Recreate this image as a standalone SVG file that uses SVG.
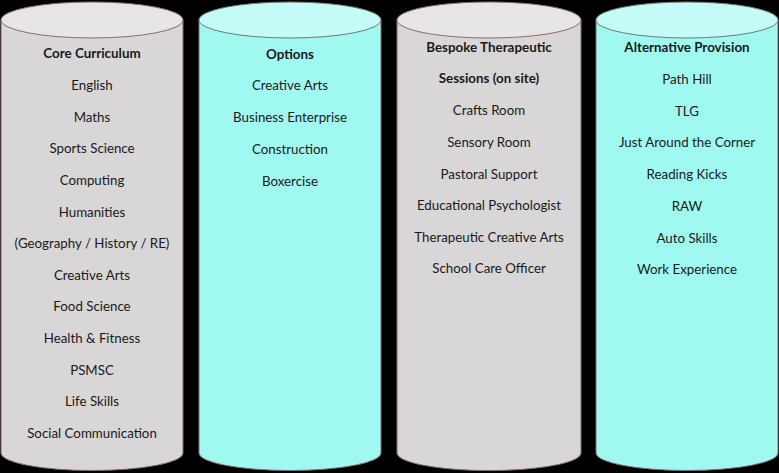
<svg xmlns="http://www.w3.org/2000/svg" width="779" height="473" viewBox="0 0 779 473">
<style>
.body{stroke:#8a6a6e;stroke-width:1}
.gray .body{fill:#d8d6d6}
.gray .top{fill:#e8e5e5;stroke:#8a6a6e;stroke-width:1}
.cyan .body{fill:#a0f9f1}
.cyan .top{fill:#c4fbf6;stroke:#6a7a7a;stroke-width:1}
text{font-family:Lato,"Open Sans","Liberation Sans",sans-serif;font-size:13.3px;fill:#1a1a1a;text-anchor:middle}
.h{font-weight:bold;font-size:13.4px}
</style>
<rect width="779" height="473" fill="#000"/>
<g id="core-curriculum" class="gray">
<path class="body" d="M1,20 L1,453 A91,17.5 0 0 0 183,453 L183,20 Z"/>
<ellipse class="top" cx="92" cy="20" rx="91" ry="18"/>
<text class="h" x="92" y="58">Core Curriculum</text>
<text x="92" y="90">English</text>
<text x="92" y="122">Maths</text>
<text x="92" y="153">Sports Science</text>
<text x="92" y="185">Computing</text>
<text x="92" y="217">Humanities</text>
<text x="92" y="248">(Geography / History / RE)</text>
<text x="92" y="280">Creative Arts</text>
<text x="92" y="311">Food Science</text>
<text x="92" y="343">Health &amp; Fitness</text>
<text x="92" y="375">PSMSC</text>
<text x="92" y="406">Life Skills</text>
<text x="92" y="438">Social Communication</text>
</g>
<g id="options" class="cyan">
<path class="body" d="M199,20 L199,453 A91,17.5 0 0 0 381,453 L381,20 Z"/>
<ellipse class="top" cx="290" cy="20" rx="91" ry="18"/>
<text class="h" x="290" y="59">Options</text>
<text x="290" y="90">Creative Arts</text>
<text x="290" y="122">Business Enterprise</text>
<text x="290" y="154">Construction</text>
<text x="290" y="186">Boxercise</text>
</g>
<g id="bespoke-therapeutic" class="gray">
<path class="body" d="M397,20 L397,453 A92,17.5 0 0 0 581,453 L581,20 Z"/>
<ellipse class="top" cx="489" cy="20" rx="92" ry="18"/>
<text class="h" x="489" y="52">Bespoke Therapeutic</text>
<text class="h" x="489" y="83">Sessions (on site)</text>
<text x="489" y="115">Crafts Room</text>
<text x="489" y="147">Sensory Room</text>
<text x="489" y="179">Pastoral Support</text>
<text x="489" y="210">Educational Psychologist</text>
<text x="489" y="242">Therapeutic Creative Arts</text>
<text x="489" y="273">School Care Officer</text>
</g>
<g id="alternative-provision" class="cyan">
<path class="body" d="M596,20 L596,453 A91,17.5 0 0 0 778,453 L778,20 Z"/>
<ellipse class="top" cx="687" cy="20" rx="91" ry="18"/>
<text class="h" x="687" y="52">Alternative Provision</text>
<text x="687" y="84">Path Hill</text>
<text x="687" y="116">TLG</text>
<text x="687" y="147">Just Around the Corner</text>
<text x="687" y="179">Reading Kicks</text>
<text x="687" y="211">RAW</text>
<text x="687" y="243">Auto Skills</text>
<text x="687" y="274">Work Experience</text>
</g>
<g id="connectors"></g>
</svg>
